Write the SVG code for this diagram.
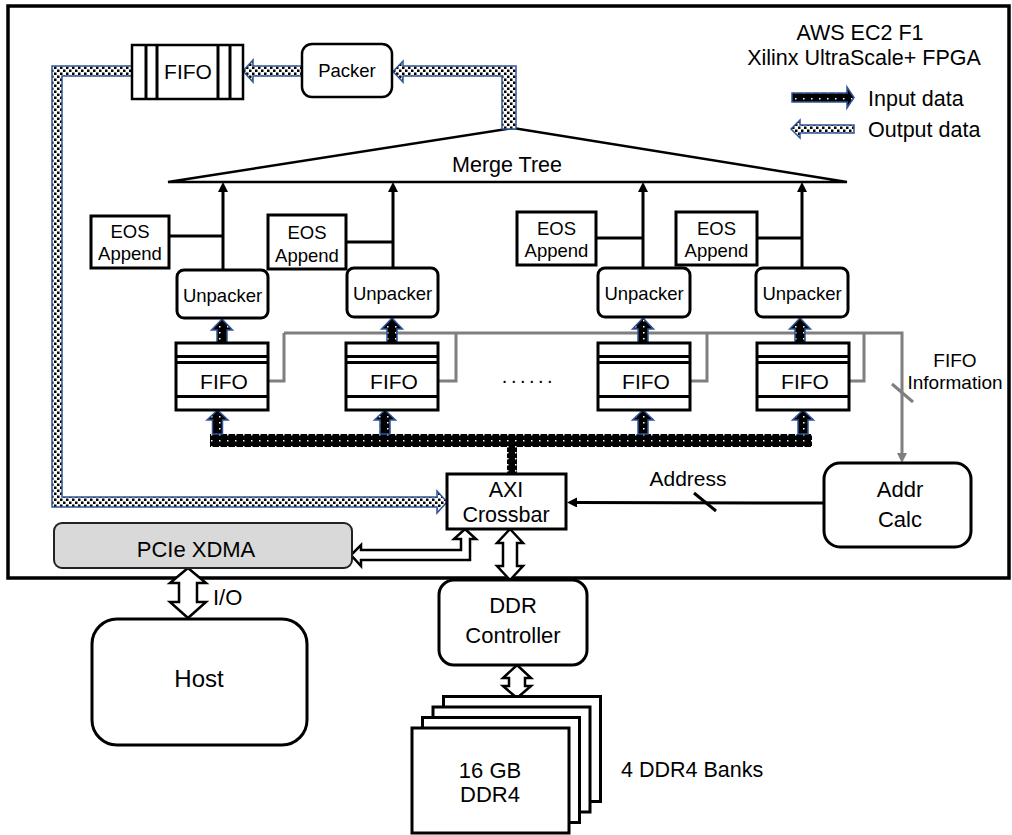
<svg xmlns="http://www.w3.org/2000/svg" width="1012" height="835" viewBox="0 0 1012 835">
<style>
.t{font-family:"Liberation Sans",Arial,sans-serif;fill:#000;text-anchor:middle}
.box{fill:#fff;stroke:#000;stroke-width:3}
.thin{fill:#fff;stroke:#000;stroke-width:2.5}
.out{fill:url(#outPat);stroke:#2f5597;stroke-width:1.5}
.in{fill:url(#inPat);stroke:#2f5597;stroke-width:1.5}
.bus{fill:url(#inPat);stroke:none}
.hollow{fill:#fff;stroke:#000;stroke-width:2.5;stroke-linejoin:miter}
.ln{stroke:#000;stroke-width:3;fill:none}
.gray{stroke:#7f7f7f;stroke-width:3;fill:none}
</style>
<defs>
<pattern id="outPat" patternUnits="userSpaceOnUse" width="6" height="6">
<rect width="6" height="6" fill="#fff"/>
<rect x="0" y="0.5" width="2.5" height="2.5" fill="#000"/>
<rect x="3" y="3.5" width="2.5" height="2.5" fill="#000"/>
</pattern>
<pattern id="inPat" patternUnits="userSpaceOnUse" width="8" height="6">
<rect width="8" height="6" fill="#000"/>
<rect x="3" y="2" width="1.5" height="1.5" fill="#fff"/>
</pattern>
<marker id="ahB" markerUnits="userSpaceOnUse" markerWidth="10" markerHeight="10" refX="2" refY="5" orient="auto">
<path d="M0,0 L10,5 L0,10 z" fill="#000"/>
</marker>
<marker id="ahG" markerUnits="userSpaceOnUse" markerWidth="10" markerHeight="10" refX="2" refY="5" orient="auto">
<path d="M0,0 L10,5 L0,10 z" fill="#7f7f7f"/>
</marker>
</defs>
<rect width="1012" height="835" fill="#fff"/>

<!-- FPGA frame -->
<rect id="fpga" x="8" y="6" width="1001" height="572" fill="none" stroke="#000" stroke-width="3.5"/>
<g id="title">
<text class="t" x="860" y="40" font-size="21.5">AWS EC2 F1</text>
<text class="t" x="864" y="65" font-size="21.5">Xilinx UltraScale+ FPGA</text>
</g>
<g id="legend">
<polygon class="in" points="792,93 847,93 847,87 854,97.5 847,108 847,102 792,102"/>
<text class="t" x="868" y="106" font-size="21.5" style="text-anchor:start">Input data</text>
<polygon class="out" points="791,129 800,120 800,125 854,125 854,133 800,133 800,138"/>
<text class="t" x="868" y="137" font-size="21.5" style="text-anchor:start">Output data</text>
</g>

<g id="mergeTree">
<polygon points="168,182 513,128 847,182" fill="none" stroke="#000" stroke-width="2.5"/>
<text class="t" x="507" y="172" font-size="21.5">Merge Tree</text>
</g>

<!-- connectors -->
<g id="connectors">
<!-- gray FIFO information lines -->
<polyline class="gray" points="268,381 284,381 284,333"/>
<polyline class="gray" points="438,381 456,381 456,333"/>
<polyline class="gray" points="690,381 707,381 707,333"/>
<polyline class="gray" points="849,381 864,381 864,333"/>
<polyline class="gray" points="284,333 902,333 902,455" marker-end="url(#ahG)"/>
<line class="gray" x1="892" y1="384" x2="913" y2="402"/>

<!-- unpacker to merge tree -->
<line class="ln" x1="223" y1="270" x2="223" y2="190" marker-end="url(#ahB)"/>
<line class="ln" x1="393" y1="268" x2="393" y2="190" marker-end="url(#ahB)"/>
<line class="ln" x1="643" y1="268" x2="643" y2="190" marker-end="url(#ahB)"/>
<line class="ln" x1="802" y1="268" x2="802" y2="190" marker-end="url(#ahB)"/>
<!-- EOS links -->
<line class="ln" x1="169" y1="236" x2="223" y2="236"/>
<line class="ln" x1="346" y1="242" x2="393" y2="242"/>
<line class="ln" x1="596" y1="238" x2="643" y2="238"/>
<line class="ln" x1="757" y1="238" x2="802" y2="238"/>

<!-- input data bus -->
<rect class="bus" x="210" y="434" width="602" height="13"/>
<rect class="bus" x="507" y="446" width="10" height="29"/>
<!-- up arrows into FIFOs -->
<polygon class="in" points="217.5,410 228,420 222.5,420 222.5,434 212.5,434 212.5,420 207,420"/>
<polygon class="in" points="385,410 395.5,420 390,420 390,434 380,434 380,420 374.5,420"/>
<polygon class="in" points="643,410 653.5,420 648,420 648,434 638,434 638,420 632.5,420"/>
<polygon class="in" points="803,410 813.5,420 808,420 808,434 798,434 798,420 792.5,420"/>
<!-- up arrows into unpackers -->
<polygon class="in" points="222,319 232.5,330 227,330 227,343 217,343 217,330 211.5,330"/>
<polygon class="in" points="392,318 402.5,329 397,329 397,343 387,343 387,329 381.5,329"/>
<polygon class="in" points="643,318 653.5,329 648,329 648,343 638,343 638,329 632.5,329"/>
<polygon class="in" points="800,318 810.5,329 805,329 805,343 795,343 795,329 789.5,329"/>

<!-- output data path -->
<polygon class="out" points="502,129 516,129 516,66 403,66 403,61 393,71.5 403,82 403,76 502,76"/>
<polygon class="out" points="302,66 253,66 253,60 243,71 253,82 253,76 302,76"/>
<polygon class="out" points="132,66 52,66 52,507 437,507 437,513 447,502 437,491 437,497 62,497 62,76 132,76"/>

<!-- address -->
<line class="ln" x1="824" y1="503" x2="575" y2="502.5" marker-end="url(#ahB)"/>
<line class="ln" x1="694" y1="493" x2="716" y2="511"/>
<text class="t" x="688" y="486" font-size="21">Address</text>

<!-- hollow bidirectional arrows -->
<polygon class="hollow" points="465,529 476,539 470,539 470,560 361,560 361,566 351,555 361,545 361,550 461,550 461,539 454,539"/>
<polygon class="hollow" points="510,529 523,543 517,543 517,566 523,566 510,580 497,566 503,566 503,543 497,543"/>
<polygon class="hollow" points="188,568 206,583 197,583 197,602 206,602 188,618 170,602 179,602 179,583 170,583"/>
<text class="t" x="213" y="605" font-size="22" style="text-anchor:start">I/O</text>
<polygon class="hollow" points="517,665 531,678 525,678 525,686 531,686 517,698 503,686 509,686 509,678 503,678"/>
</g>

<!-- nodes -->
<g id="outFifo">
<rect class="thin" x="132" y="45" width="111" height="54"/>
<line class="ln" x1="146" y1="45" x2="146" y2="99" stroke-width="2.5"/>
<line class="ln" x1="157" y1="45" x2="157" y2="99" stroke-width="2.5"/>
<line class="ln" x1="218" y1="45" x2="218" y2="99" stroke-width="2.5"/>
<line class="ln" x1="230" y1="45" x2="230" y2="99" stroke-width="2.5"/>
<text class="t" x="188" y="79" font-size="21">FIFO</text>
</g>
<g id="packer">
<rect class="thin" x="302" y="44" width="90" height="53" rx="10"/>
<text class="t" x="347" y="77" font-size="18.5">Packer</text>
</g>

<g id="eos1"><rect class="box" x="91" y="216" width="78" height="52"/>
<text class="t" x="130" y="238" font-size="18.5">EOS</text><text class="t" x="130" y="260" font-size="18.5">Append</text></g>
<g id="eos2"><rect class="box" x="268" y="215" width="78" height="54"/>
<text class="t" x="307" y="239" font-size="18.5">EOS</text><text class="t" x="307" y="262" font-size="18.5">Append</text></g>
<g id="eos3"><rect class="box" x="517" y="212" width="79" height="53"/>
<text class="t" x="556.5" y="235" font-size="18.5">EOS</text><text class="t" x="556.5" y="257" font-size="18.5">Append</text></g>
<g id="eos4"><rect class="box" x="676" y="212" width="81" height="53"/>
<text class="t" x="716.5" y="235" font-size="18.5">EOS</text><text class="t" x="716.5" y="257" font-size="18.5">Append</text></g>

<g id="unpacker1"><rect class="box" x="177" y="270" width="91" height="48" rx="7"/>
<text class="t" x="222.5" y="302" font-size="18.5">Unpacker</text></g>
<g id="unpacker2"><rect class="box" x="347" y="268" width="91" height="49" rx="7"/>
<text class="t" x="392.5" y="300" font-size="18.5">Unpacker</text></g>
<g id="unpacker3"><rect class="box" x="598" y="268" width="92" height="49" rx="7"/>
<text class="t" x="644" y="300" font-size="18.5">Unpacker</text></g>
<g id="unpacker4"><rect class="box" x="756" y="268" width="92" height="49" rx="7"/>
<text class="t" x="802" y="300" font-size="18.5">Unpacker</text></g>

<g id="fifo1"><rect class="box" x="176" y="343" width="92" height="67"/>
<path class="ln" d="M176,356.5H268M176,362.5H268M176,396.5H268"/>
<text class="t" x="224" y="389" font-size="21">FIFO</text></g>
<g id="fifo2"><rect class="box" x="346" y="343" width="92" height="67"/>
<path class="ln" d="M346,356.5H438M346,362.5H438M346,396.5H438"/>
<text class="t" x="394" y="389" font-size="21">FIFO</text></g>
<g id="fifo3"><rect class="box" x="598" y="343" width="92" height="67"/>
<path class="ln" d="M598,356.5H690M598,362.5H690M598,396.5H690"/>
<text class="t" x="646" y="389" font-size="21">FIFO</text></g>
<g id="fifo4"><rect class="box" x="757" y="343" width="92" height="67"/>
<path class="ln" d="M757,356.5H849M757,362.5H849M757,396.5H849"/>
<text class="t" x="805" y="389" font-size="21">FIFO</text></g>
<text class="t" x="529" y="383" font-size="20" letter-spacing="3.5">......</text>

<g id="fifoInfo">
<text class="t" x="955" y="367" font-size="19">FIFO</text>
<text class="t" x="955" y="389" font-size="19">Information</text>
</g>

<g id="axi"><rect class="box" x="447" y="474" width="119" height="55"/>
<text class="t" x="506" y="497" font-size="21.5">AXI</text>
<text class="t" x="506" y="522" font-size="21.5">Crossbar</text></g>

<g id="addrCalc"><rect class="box" x="824" y="463" width="147" height="84" rx="16"/>
<text class="t" x="900" y="497" font-size="22">Addr</text>
<text class="t" x="900" y="527" font-size="22">Calc</text></g>

<g id="pcie"><rect x="54" y="523" width="298" height="45" rx="8" fill="#d9d9d9" stroke="#222" stroke-width="2"/>
<text class="t" x="196" y="557" font-size="22">PCIe XDMA</text></g>

<g id="host"><rect class="box" x="92" y="619" width="215" height="126" rx="25"/>
<text class="t" x="199" y="687" font-size="24">Host</text></g>

<g id="ddrCtrl"><rect class="box" x="439" y="580" width="148" height="85" rx="15"/>
<text class="t" x="513" y="613" font-size="22">DDR</text>
<text class="t" x="513" y="643" font-size="22">Controller</text></g>

<g id="ddrBanks">
<rect class="box" x="443.5" y="696.5" width="157" height="105"/>
<rect class="box" x="433" y="707" width="157" height="105"/>
<rect class="box" x="422.5" y="717.5" width="157" height="105"/>
<rect class="box" x="412" y="728" width="157" height="105"/>
<text class="t" x="490" y="778" font-size="22">16 GB</text>
<text class="t" x="490" y="802" font-size="22">DDR4</text>
</g>
<text class="t" x="621" y="777" font-size="21.5" style="text-anchor:start">4 DDR4 Banks</text>
</svg>
